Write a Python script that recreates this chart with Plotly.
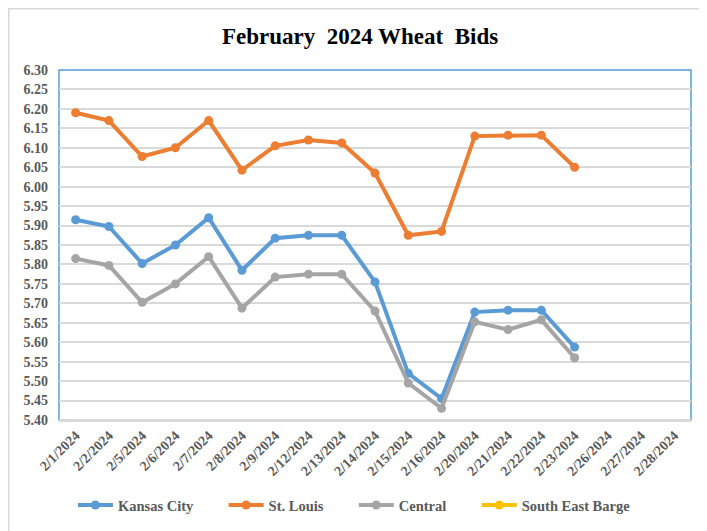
import plotly.graph_objects as go

dates = ["2/1/2024", "2/2/2024", "2/5/2024", "2/6/2024", "2/7/2024", "2/8/2024",
         "2/9/2024", "2/12/2024", "2/13/2024", "2/14/2024", "2/15/2024", "2/16/2024",
         "2/20/2024", "2/21/2024", "2/22/2024", "2/23/2024", "2/26/2024", "2/27/2024",
         "2/28/2024"]

kansas_city = [5.915, 5.8975, 5.8025, 5.85, 5.92, 5.785, 5.8675, 5.875, 5.875, 5.755,
               5.52, 5.455, 5.6775, 5.6825, 5.6825, 5.5875, None, None, None]
st_louis = [6.19, 6.17, 6.0775, 6.10, 6.17, 6.0425, 6.105, 6.12, 6.1125, 6.035,
            5.875, 5.885, 6.13, 6.1325, 6.1325, 6.05, None, None, None]
central = [5.815, 5.7975, 5.7025, 5.75, 5.82, 5.6875, 5.7675, 5.775, 5.775, 5.68,
           5.495, 5.43, 5.6525, 5.6325, 5.6575, 5.56, None, None, None]
south_east_barge = [None] * len(dates)

y_ticks = [round(5.40 + 0.05 * i, 2) for i in range(19)]

series = [
    ("Kansas City", kansas_city, "#5B9BD5"),
    ("St. Louis", st_louis, "#ED7D31"),
    ("Central", central, "#A5A5A5"),
    ("South East Barge", south_east_barge, "#FFC000"),
]

font_family = "Liberation Serif, Times New Roman, serif"
pad = "\u00a0" * 7  # extra room between legend entries

fig = go.Figure()
for i, (name, vals, color) in enumerate(series):
    label = "<b>" + name + "</b>" + (pad if i < len(series) - 1 else "")
    fig.add_trace(go.Scatter(
        x=dates, y=vals, name=label, mode="lines+markers",
        line=dict(color=color, width=4),
        marker=dict(color=color, size=9),
        connectgaps=False,
    ))

# page is shifted 8px right/down, so margins are offset to compensate
fig.update_layout(
    width=707, height=531,
    margin=dict(l=51, r=24, t=62, b=119),
    paper_bgcolor="white", plot_bgcolor="white",
    title=dict(text="<b>February  2024 Wheat  Bids</b>", x=0.498, xanchor="center",
               y=0.947, yanchor="middle",
               font=dict(family=font_family, size=23, color="black")),
    font=dict(family=font_family, color="#595959"),
    legend=dict(orientation="h", x=0.022, xanchor="left", y=-0.243, yanchor="middle",
                font=dict(family=font_family, size=14.5, color="#595959"),
                itemwidth=35, tracegroupgap=0),
    showlegend=True,
)

fig.update_xaxes(
    type="category", categoryorder="array", categoryarray=dates,
    range=[-0.5, len(dates) - 0.5],
    tickangle=-45, tickfont=dict(family=font_family, size=14, color="#595959"),
    showgrid=False, showline=True, linecolor="#D9D9D9", linewidth=1.5,
    ticks="", tickprefix="<b>", ticksuffix="</b>",
)
fig.update_yaxes(
    range=[5.40, 6.30], tickvals=y_ticks,
    ticktext=["<b>%.2f</b>" % v for v in y_ticks],
    tickfont=dict(family=font_family, size=14, color="#595959"),
    showgrid=True, gridcolor="#D9D9D9", gridwidth=1.5,
    zeroline=False, showline=False, ticks="", ticklabelstandoff=10,
)

# plot area border (blue) and outer chart border
fig.add_shape(type="rect", xref="paper", yref="paper", x0=0, x1=1, y0=0, y1=1,
              line=dict(color="#5B9BD5", width=1.5), layer="below")
fig.add_shape(type="line", xref="paper", yref="paper", x0=0, x1=1, y0=0, y1=0,
              line=dict(color="#D9D9D9", width=2))
fig.add_shape(type="rect", xref="paper", yref="paper",
              x0=-50.2 / 632, x1=1 + 30 / 632, y0=-1.3, y1=1 + 61.2 / 350,
              line=dict(color="#D9D9D9", width=1.5))

fig.write_html("out.html")
